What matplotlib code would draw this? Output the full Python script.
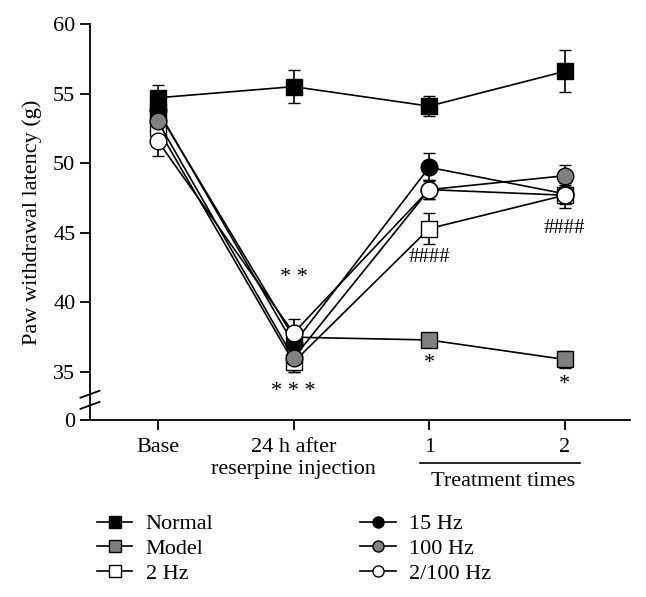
import matplotlib
matplotlib.use("Agg")
import matplotlib.pyplot as plt
from matplotlib.lines import Line2D

plt.rcParams['font.family'] = ['Liberation Serif', 'DejaVu Serif']

# data
x_labels = ["Base", "24 h after\nreserpine injection", "1", "2"]
x = [0, 1, 2, 3]

normal = [54.7, 55.5, 54.1, 56.6]
normal_err = [0.9, 1.2, 0.7, 1.5]
model = [53.7, 37.5, 37.3, 35.9]
model_err = [0.6, 0.6, 0.5, 0.6]
hz2 = [52.5, 35.7, 45.3, 47.7]
hz2_err = [0.7, 0.7, 1.1, 0.6]
hz15 = [53.8, 37.0, 49.7, 47.8]
hz15_err = [0.7, 0.8, 1.0, 0.6]
hz100 = [53.0, 36.0, 48.1, 49.1]
hz100_err = [0.6, 1.0, 0.7, 0.8]
hz2_100 = [51.6, 37.8, 48.1, 47.7]
hz2_100_err = [1.1, 1.0, 0.7, 0.9]

# fake bottom of the broken axis, labelled "0"
y_zero = 31.55

series = [
    ("Normal", normal, normal_err, 's', 'black'),
    ("Model", model, model_err, 's', '#808080'),
    ("2 Hz", hz2, hz2_err, 's', 'white'),
    ("15 Hz", hz15, hz15_err, 'o', 'black'),
    ("100 Hz", hz100, hz100_err, 'o', '#808080'),
    ("2/100 Hz", hz2_100, hz2_100_err, 'o', 'white'),
]

fig = plt.figure(figsize=(6.46, 5.97), dpi=100)
ax = fig.add_axes([90/646, 1-420/597, (630-90)/646, (420-24)/597])

handles = []
for name, vals, err, mk, fc in series:
    ax.errorbar(x, vals, yerr=err, color='black', lw=1.2, marker=mk,
                markersize=11 if mk == 's' else 12, markerfacecolor=fc,
                markeredgecolor='black', markeredgewidth=1.0,
                ecolor='black', elinewidth=1.2, capsize=4, capthick=1.2)
    handles.append(Line2D([], [], color='black', lw=1.2, marker=mk,
                          markersize=8, markerfacecolor=fc,
                          markeredgecolor='black', label=name))

ax.set_xlim(-0.5, 3.48)
ax.set_ylim(y_zero, 60)
ax.set_yticks([y_zero, 35, 40, 45, 50, 55, 60])
ax.set_yticklabels(["0", "35", "40", "45", "50", "55", "60"])
ax.set_xticks(x)
ax.set_xticklabels(x_labels)
ax.spines['top'].set_visible(False)
ax.spines['right'].set_visible(False)
ax.spines['left'].set_linewidth(1.3)
ax.spines['bottom'].set_linewidth(1.3)
ax.tick_params(axis='both', direction='out', length=7, width=1.3,
               labelsize=16, colors='black')
ax.tick_params(axis='x', pad=6)
ax.set_ylabel("Paw withdrawal latency (g)", fontsize=16, labelpad=8)

# axis break marks
for yb in [32.6, 33.4]:
    ax.plot([-0.57, -0.43], [yb - 0.25, yb + 0.25], color='black', lw=1.3,
            clip_on=False)

# significance marks
ax.text(1, 41.8, "* *", ha='center', va='center', fontsize=16)
ax.text(1, 33.6, "* * *", ha='center', va='center', fontsize=16)
ax.text(2, 35.6, "*", ha='center', va='center', fontsize=16)
ax.text(3, 34.1, "*", ha='center', va='center', fontsize=16)
ax.text(2, 43.2, "####", ha='center', va='center', fontsize=15)
ax.text(3, 45.3, "####", ha='center', va='center', fontsize=15)

# treatment times bracket
fig.add_artist(Line2D([420/646, 580/646], [1-463/597, 1-463/597],
                      color='black', lw=1.2))
fig.text(503/646, 1-486/597, "Treatment times", ha='center', va='baseline',
         fontsize=16)

fig.legend(handles=handles, ncol=2, loc='upper left',
           bbox_to_anchor=(88/646, 1-505/597), frameon=False, fontsize=16,
           handlelength=1.6, columnspacing=6.6, labelspacing=0.18,
           handletextpad=0.6, borderaxespad=0.0)

fig.savefig("out.png", dpi=100)
